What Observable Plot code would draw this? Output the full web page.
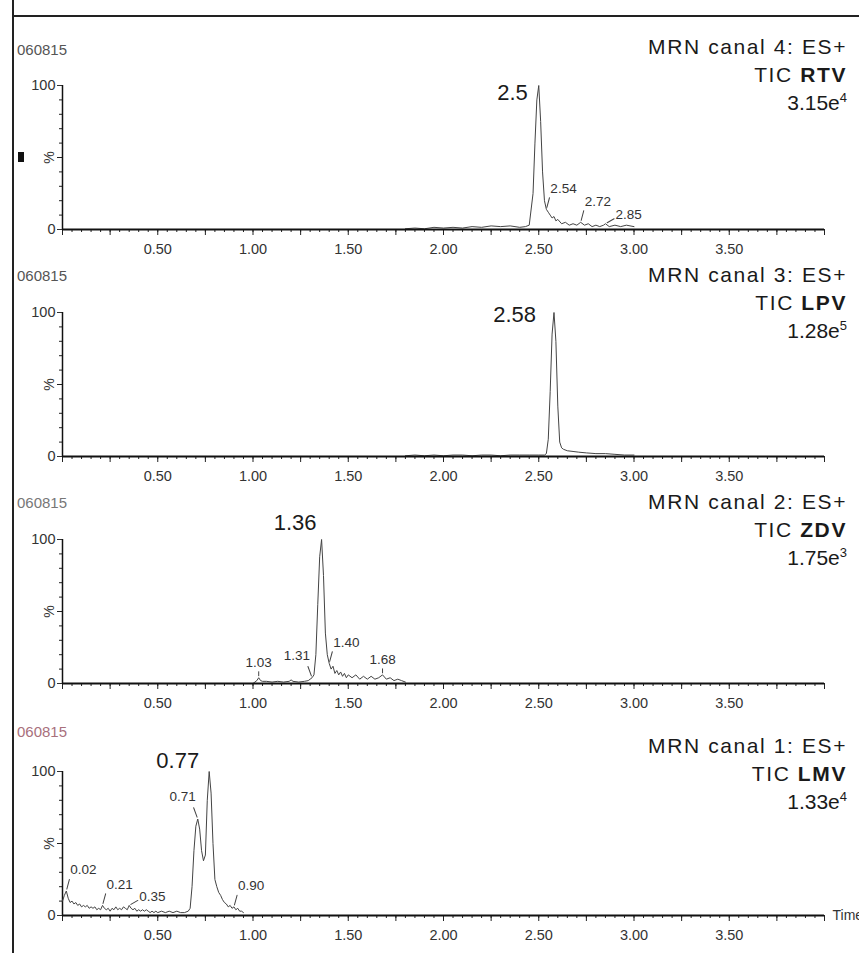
<!DOCTYPE html>
<html>
<head>
<meta charset="utf-8">
<script src="https://cdn.jsdelivr.net/npm/d3@7"></script>
<script src="https://cdn.jsdelivr.net/npm/@observablehq/plot@0.6"></script>
<style>
  body { margin: 0; background: #fff; }
  #root { position: relative; width: 859px; height: 953px; overflow: hidden; background: #fff;
          font-family: "Liberation Sans", Arial, sans-serif; }
  .panel { position: absolute; left: 0; }
  .title { position: absolute; right: 12px; text-align: right; font-size: 21px; line-height: 28px;
           color: #1a1a1a; white-space: nowrap; }
  .title .sp { letter-spacing: 1.6px; }
  .title sup { font-size: 13px; line-height: 0; vertical-align: 8px; }
  .run { position: absolute; left: 17px; font-size: 15px; line-height: 20px; color: #555; }
  .frameL { position: absolute; left: 12px; top: 0; width: 2px; height: 953px; background: #222; }
  .frameT { position: absolute; left: 12px; top: 15px; width: 847px; height: 2px; background: #222; }
  .mark { position: absolute; left: 18px; top: 152px; width: 6px; height: 10px; background: #111; }
</style>
</head>
<body>
<div id="root">
  <div class="frameL"></div>
  <div class="frameT"></div>
</div>
<script>
// ---------- data ----------
const runId = "060815";
const channels = ["MRN canal 4: ES+", "MRN canal 3: ES+", "MRN canal 2: ES+", "MRN canal 1: ES+"];
const compounds = ["RTV", "LPV", "ZDV", "LMV"];
const scaleMant = ["3.15", "1.28", "1.75", "1.33"];
const scaleExp = ["4", "5", "3", "4"];
const tickLabels = [0.5, 1.0, 1.5, 2.0, 2.5, 3.0, 3.5];

const timeRTV = [1.80,1.85,1.90,1.95,2.00,2.05,2.10,2.15,2.20,2.25,2.30,2.35,2.40,2.43,2.45,2.47,2.48,2.49,2.50,2.51,2.52,2.53,2.54,2.55,2.56,2.57,2.58,2.59,2.60,2.62,2.64,2.66,2.68,2.70,2.72,2.74,2.76,2.78,2.80,2.82,2.84,2.85,2.87,2.90,2.93,2.96,3.00];
const intRTV  = [0.5,1,0.5,1.5,1,1.5,1,2,1.5,2.5,2,2.5,1.5,2,3,25,60,90,100,75,40,20,14,12,10,8,9,6,7,4,5,3,4,3,5,3,4,2,3,2,3,4,2,3,2,3,2];

const timeLPV = [1.80,1.85,1.90,1.95,2.00,2.05,2.10,2.15,2.20,2.25,2.30,2.35,2.40,2.45,2.50,2.53,2.54,2.55,2.56,2.57,2.58,2.59,2.60,2.61,2.62,2.63,2.65,2.68,2.71,2.75,2.80,2.85,2.90,2.95,3.00];
const intLPV  = [0.5,1,0.5,1,0.5,1,1,0.5,1,1,0.5,1,1,1,1,1,2,12,45,85,100,80,35,10,6,5,4,3.5,3,2.5,2,2,1.5,1,1];

const timeZDV = [1.00,1.01,1.02,1.03,1.04,1.05,1.07,1.10,1.13,1.16,1.19,1.20,1.21,1.24,1.27,1.29,1.30,1.31,1.32,1.33,1.34,1.35,1.36,1.37,1.38,1.39,1.40,1.41,1.42,1.43,1.44,1.45,1.46,1.47,1.48,1.49,1.50,1.52,1.54,1.56,1.58,1.60,1.62,1.64,1.66,1.68,1.70,1.72,1.74,1.76,1.78,1.80];
const intZDV  = [0,1,2,4,2,1.5,1.5,1,1.5,1,1.5,2.5,1.5,1,1.5,2,3,4,6,20,55,88,100,75,35,20,14,10,12,7,9,6,8,5,7,4,6,4,6,3,5,3,5,3,4,6,3,4,2,3,2,1];

const timeLMV = [0.00,0.01,0.02,0.03,0.04,0.05,0.06,0.07,0.08,0.09,0.10,0.11,0.12,0.13,0.14,0.15,0.16,0.17,0.18,0.19,0.20,0.21,0.22,0.23,0.24,0.25,0.26,0.27,0.28,0.29,0.30,0.31,0.32,0.33,0.34,0.35,0.36,0.37,0.38,0.39,0.40,0.41,0.42,0.43,0.44,0.45,0.46,0.47,0.48,0.49,0.50,0.52,0.54,0.56,0.58,0.60,0.62,0.64,0.66,0.67,0.68,0.69,0.70,0.71,0.72,0.73,0.74,0.75,0.76,0.77,0.78,0.79,0.80,0.81,0.82,0.83,0.84,0.85,0.86,0.87,0.88,0.89,0.90,0.91,0.92,0.93,0.94,0.95];
const intLMV  = [10,14,17,12,9,10,8,9,7,8,6,7,6,7,5,6,5,6,4,5,4,7,5,4,5,3,5,4,6,4,5,4,6,5,4,7,5,4,5,3,4,3,4,3,4,3,2,3,2,3,2,3,2,3,2,3,2,2,3,5,20,45,62,67,60,45,38,42,80,100,85,50,25,20,16,14,11,9,8,6,7,5,6,4,5,3,3,2];

const peakRT = [2.50, 2.58, 1.36, 0.77];
const peakText = ["2.5", "2.58", "1.36", "0.77"];
const minorRTV = [2.54, 2.72, 2.85];
const minorLPV = [];
const minorZDV = [1.03, 1.31, 1.40, 1.68];
const minorLMV = [0.02, 0.21, 0.35, 0.71, 0.90];

// ---------- layout ----------
const times = [timeRTV, timeLPV, timeZDV, timeLMV];
const ints = [intRTV, intLPV, intZDV, intLMV];
const minors = [minorRTV, minorLPV, minorZDV, minorLMV];
const svgTop = [25, 252, 479, 711];
const titleTop = [33, 261, 488, 732];
const runTop = [40, 266, 493, 722];
const runColor = ["#555", "#555", "#777", "#a8707c"];
const bigDx = [-11, -18, -5, -10];
const bigDy = [7, 2, -17, -11];
// label placement groups (by label text)
const leftSet = ["1.31", "0.71"];
const sideSet = ["2.85", "0.35"];
const upSet = ["1.03", "1.68"];
const font = '"Liberation Sans", Arial, sans-serif';

const leader = {
  draw(context, l) { context.moveTo(0, -2); context.lineTo(0, -l); }
};

const root = document.getElementById("root");

for (let i = 0; i < 4; i++) {
  const data = times[i].map((t, j) => ({t, v: ints[i][j]}));
  const valueAt = (t) => data.reduce((a, b) => Math.abs(b.t - t) < Math.abs(a.t - t) ? b : a).v;
  const lbl = minors[i].map(t => ({t, v: valueAt(t), text: t.toFixed(2)}));
  const lblL = lbl.filter(d => leftSet.includes(d.text));
  const lblS = lbl.filter(d => sideSet.includes(d.text));
  const lblU = lbl.filter(d => upSet.includes(d.text));
  const lblR = lbl.filter(d => !leftSet.includes(d.text) && !sideSet.includes(d.text) && !upSet.includes(d.text));
  const big = [{t: peakRT[i], v: 100, text: peakText[i]}];
  const lstyle = {stroke: "#444", strokeWidth: 1, anchor: "start", shape: leader};
  const tstyle = {fontSize: 13.5, fill: "#333"};

  const marks = [
    Plot.axisX({ticks: d3.range(0, 4.001, 0.05), tickSize: 3, text: null, label: null, stroke: "#222"}),
    Plot.axisX({ticks: d3.range(0, 4.001, 0.25), tickSize: 6, text: null, label: null, stroke: "#222"}),
    Plot.axisX({ticks: tickLabels, tickSize: 0, tickPadding: 14, tickFormat: d => d.toFixed(2), label: null, fontSize: 14.5, fill: "#333"}),
    Plot.axisY({ticks: d3.range(0, 101, 10), tickSize: 3, text: null, label: null, stroke: "#222"}),
    Plot.axisY({ticks: [0, 100], tickSize: 5, tickPadding: 2, tickFormat: d => String(d), label: null, fontSize: 14.5, fill: "#333"}),
    Plot.axisY({ticks: [50], tickSize: 5, text: null, label: null, stroke: "#222"}),
    Plot.text([{t: 0, v: 50}], {x: "t", y: "v", text: () => "%", rotate: -90, dx: -13, fontSize: 14, fill: "#333"}),
    Plot.ruleX([0], {stroke: "#111", strokeWidth: 1.5}),
    Plot.line(data, {x: "t", y: "v", stroke: "#444", strokeWidth: 1}),
    Plot.ruleY([0], {stroke: "#111", strokeWidth: 2}),
    // minor peak annotations with leader lines
    Plot.vector(lblR, {x: "t", y: "v", length: 12, rotate: 15, ...lstyle}),
    Plot.text(lblR, {x: "t", y: "v", text: "text", textAnchor: "start", dx: 4, dy: -21, ...tstyle}),
    Plot.vector(lblL, {x: "t", y: "v", length: 12, rotate: -20, ...lstyle}),
    Plot.text(lblL, {x: "t", y: "v", text: "text", textAnchor: "end", dx: -2, dy: -22, ...tstyle}),
    Plot.vector(lblS, {x: "t", y: "v", length: 10, rotate: 60, ...lstyle}),
    Plot.text(lblS, {x: "t", y: "v", text: "text", textAnchor: "start", dx: 10, dy: -9, ...tstyle}),
    Plot.vector(lblU, {x: "t", y: "v", length: 6, rotate: 0, ...lstyle}),
    Plot.text(lblU, {x: "t", y: "v", text: "text", textAnchor: "middle", dx: 0, dy: -15, ...tstyle}),
    // main peak label
    Plot.text(big, {x: "t", y: "v", text: "text", textAnchor: "end", dx: bigDx[i], dy: bigDy[i], fontSize: 22, fill: "#1a1a1a"})
  ];
  if (i === 3) {
    marks.push(Plot.text([{t: 4, v: 0}], {x: "t", y: "v", text: () => "Time", textAnchor: "start", dx: 8, fontSize: 14, fill: "#333"}));
  }

  const chart = Plot.plot({
    width: 859, height: 230,
    marginLeft: 62, marginRight: 35, marginTop: 60, marginBottom: 26,
    x: {domain: [0, 4]},
    y: {domain: [0, 100]},
    style: {fontFamily: font, background: "transparent", overflow: "visible", color: "#333"},
    marks
  });
  chart.classList.add("panel");
  chart.style.top = svgTop[i] + "px";
  root.appendChild(chart);

  const run = document.createElement("div");
  run.className = "run";
  run.style.top = runTop[i] + "px";
  run.style.color = runColor[i];
  run.textContent = runId;
  root.appendChild(run);

  const title = document.createElement("div");
  title.className = "title";
  title.style.top = titleTop[i] + "px";
  title.innerHTML = `<span class="sp">${channels[i]}</span><br><span class="sp">TIC <b>${compounds[i]}</b></span><br>${scaleMant[i]}e<sup>${scaleExp[i]}</sup>`;
  root.appendChild(title);
}

const mk = document.createElement("div");
mk.className = "mark";
root.appendChild(mk);
</script>
</body>
</html>
